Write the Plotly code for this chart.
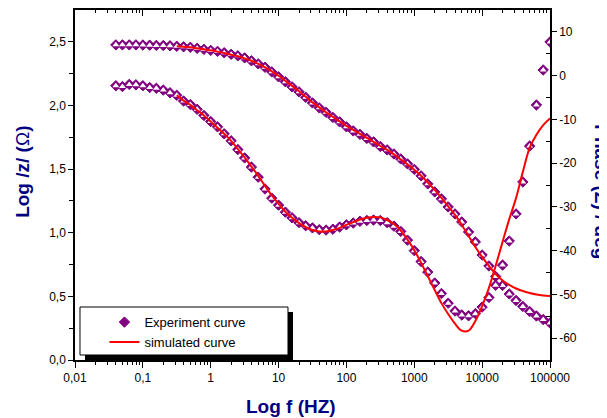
import plotly.graph_objects as go

# ---- data ----
freq = [0.04, 0.05, 0.063, 0.079, 0.1, 0.126, 0.158, 0.2, 0.251, 0.316,
        0.398, 0.501, 0.631, 0.794, 1, 1.26, 1.58, 2, 2.51, 3.16,
        3.98, 5.01, 6.31, 7.94, 10, 12.6, 15.8, 20, 25.1, 31.6,
        39.8, 50.1, 63.1, 79.4, 100, 126, 158, 200, 251, 316,
        398, 501, 631, 794, 1000, 1260, 1580, 2000, 2510, 3160,
        3980, 5010, 6310, 7940, 10000, 12600, 15800, 20000, 25100, 31600,
        39800, 50100, 63100, 79400, 100000]

logz_exp = [2.476, 2.476, 2.476, 2.476, 2.475, 2.474, 2.472, 2.471, 2.469, 2.465,
            2.461, 2.457, 2.449, 2.441, 2.433, 2.425, 2.414, 2.402, 2.390, 2.374,
            2.351, 2.327, 2.300, 2.264, 2.225, 2.186, 2.146, 2.107, 2.064, 2.020,
            1.981, 1.946, 1.906, 1.871, 1.832, 1.800, 1.773, 1.741, 1.714, 1.678,
            1.651, 1.619, 1.580, 1.541, 1.498, 1.447, 1.384, 1.321, 1.266, 1.203,
            1.148, 1.085, 1.006, 0.928, 0.825, 0.739, 0.656, 0.586, 0.519, 0.468,
            0.421, 0.381, 0.346, 0.318, 0.291]

phase_exp = [-2.3, -2.5, -2.0, -2.1, -2.3, -2.7, -2.9, -3.3, -3.9, -4.5,
             -5.8, -6.6, -7.7, -9.1, -10.5, -11.7, -13.3, -14.9, -16.9, -18.8,
             -20.9, -23.2, -25.9, -28.0, -29.6, -31.2, -32.5, -33.6, -34.3, -34.8,
             -35.2, -35.3, -35.1, -34.6, -34.1, -33.7, -33.3, -33.1, -33.0, -33.1,
             -33.6, -34.4, -35.6, -37.6, -40.0, -42.5, -44.9, -47.4, -49.8, -52.0,
             -53.8, -54.7, -54.9, -54.4, -52.9, -50.7, -47.9, -43.3, -37.8, -31.6,
             -24.3, -16.1, -6.7, 1.3, 7.7]

freq_sim = freq[9:]

logz_sim = [2.465, 2.461, 2.457, 2.449, 2.441, 2.433, 2.423, 2.412, 2.399, 2.386,
            2.370, 2.351, 2.327, 2.300, 2.268, 2.233, 2.193, 2.154, 2.111, 2.068,
            2.024, 1.985, 1.946, 1.910, 1.875, 1.840, 1.808, 1.777, 1.745, 1.714,
            1.682, 1.651, 1.616, 1.576, 1.537, 1.494, 1.447, 1.395, 1.336, 1.274,
            1.207, 1.140, 1.061, 0.975, 0.888, 0.810, 0.739, 0.676, 0.625, 0.590,
            0.562, 0.542, 0.527, 0.515, 0.507, 0.503]

phase_sim = [-4.5, -5.7, -6.7, -7.9, -9.1, -10.5, -11.9, -13.3, -14.9, -16.8,
             -18.7, -20.8, -22.9, -25.2, -27.4, -29.3, -31.1, -32.5, -33.7, -34.6,
             -35.3, -35.6, -35.6, -35.3, -34.8, -34.1, -33.5, -32.9, -32.5, -32.3,
             -32.4, -33.0, -33.9, -35.4, -37.5, -39.9, -42.8, -45.8, -49.0, -52.0,
             -54.5, -56.7, -58.3, -58.3, -56.1, -52.7, -48.5, -43.5, -38.0, -32.8,
             -28.0, -22.0, -16.5, -13.5, -11.3, -9.8]

x_tickvals = [0.01, 0.1, 1, 10, 100, 1000, 10000, 100000]
x_ticktext = ["0,01", "0,1", "1", "10", "100", "1000", "10000", "100000"]
x_minor = [m * d for d in [0.01, 0.1, 1, 10, 100, 1000, 10000] for m in range(2, 10)]
y_tickvals = [0, 0.5, 1.0, 1.5, 2.0, 2.5]
y_ticktext = ["0,0", "0,5", "1,0", "1,5", "2,0", "2,5"]
y_minor = [0.25, 0.75, 1.25, 1.75, 2.25]
y2_tickvals = [-60, -50, -40, -30, -20, -10, 0, 10]
y2_ticktext = ["-60", "-50", "-40", "-30", "-20", "-10", "0", "10"]
y2_minor = [-55, -45, -35, -25, -15, -5, 5]

PURPLE = "#800080"
RED = "#ff0000"
NAVY = "#000080"
FONT = "Arial, Liberation Sans, sans-serif"

marker_full = dict(symbol="diamond", size=8, color=PURPLE,
                   line=dict(color=PURPLE, width=1))
marker_top = dict(symbol="triangle-up", size=6, color="white", line=dict(width=0))

fig = go.Figure()
fig.add_trace(go.Scatter(x=freq, y=logz_exp, mode="markers", marker=marker_full,
                         name="Experiment curve", legendgroup="exp", showlegend=True))
fig.add_trace(go.Scatter(x=freq, y=logz_exp, mode="markers", marker=marker_top,
                         legendgroup="exp", showlegend=False, hoverinfo="skip"))
fig.add_trace(go.Scatter(x=freq, y=phase_exp, mode="markers", marker=marker_full, yaxis="y2",
                         name="Experiment curve", legendgroup="exp", showlegend=False))
fig.add_trace(go.Scatter(x=freq, y=phase_exp, mode="markers", marker=marker_top, yaxis="y2",
                         legendgroup="exp", showlegend=False, hoverinfo="skip"))
fig.add_trace(go.Scatter(x=freq_sim, y=logz_sim, mode="lines",
                         line=dict(color=RED, width=2, shape="spline", smoothing=1),
                         name="simulated curve", legendgroup="sim", showlegend=True))
fig.add_trace(go.Scatter(x=freq_sim, y=phase_sim, mode="lines", yaxis="y2",
                         line=dict(color=RED, width=2, shape="spline", smoothing=1),
                         name="simulated curve", legendgroup="sim", showlegend=False))
# empty trace to host the mirrored top axis
fig.add_trace(go.Scatter(x=[], y=[], xaxis="x2", showlegend=False, hoverinfo="skip"))

axis_common = dict(showgrid=False, zeroline=False, showline=True, linecolor="black",
                   linewidth=1.5, tickcolor="black", tickwidth=1.2,
                   tickfont=dict(family=FONT, size=12, color="black"))

# page body has an 8px margin, so the figure is sized/margined to land in place
fig.update_layout(
    width=599, height=410, autosize=False,
    margin=dict(l=67, r=57, t=2, b=58),
    paper_bgcolor="white", plot_bgcolor="white",
    font=dict(family=FONT, size=12, color="black"),
    xaxis=dict(type="log", range=[-2, 5], tickmode="array", tickvals=x_tickvals,
               ticktext=x_ticktext, ticks="outside", ticklen=6,
               minor=dict(tickmode="array", tickvals=x_minor, ticks="outside",
                          ticklen=3.5, tickcolor="black", tickwidth=1),
               **axis_common),
    xaxis2=dict(type="log", range=[-2, 5], overlaying="x", side="top", anchor="y",
                tickmode="array", tickvals=x_tickvals, showticklabels=False,
                ticks="inside", ticklen=6,
                minor=dict(tickmode="array", tickvals=x_minor, ticks="inside",
                           ticklen=3.5, tickcolor="black", tickwidth=1),
                **axis_common),
    yaxis=dict(range=[0, 2.75], tickmode="array", tickvals=y_tickvals, ticktext=y_ticktext,
               ticks="outside", ticklen=5,
               minor=dict(tickmode="array", tickvals=y_minor, ticks="outside",
                          ticklen=4, tickcolor="black", tickwidth=1),
               **axis_common),
    yaxis2=dict(range=[-65, 15], overlaying="y", side="right", anchor="x",
                tickmode="array", tickvals=y2_tickvals, ticktext=y2_ticktext,
                ticks="outside", ticklen=5,
                minor=dict(tickmode="array", tickvals=y2_minor, ticks="inside",
                           ticklen=4, tickcolor="black", tickwidth=1),
                **axis_common),
    legend=dict(x=0.062, y=0.151, xanchor="left", yanchor="top",
                bgcolor="rgba(0,0,0,0)", borderwidth=0,
                font=dict(family=FONT, size=13, color="black"),
                tracegroupgap=0, itemwidth=30),
    shapes=[
        dict(type="rect", xref="paper", yref="paper", x0=0.0211, x1=0.4589, y0=0.0, y1=0.1371,
             fillcolor="black", line=dict(width=0), layer="above"),
        dict(type="rect", xref="paper", yref="paper", x0=0.0105, x1=0.4484, y0=0.0143, y1=0.1514,
             fillcolor="white", line=dict(color="black", width=1), layer="above"),
    ],
    annotations=[
        dict(text="<b>Log f (HZ)</b>", xref="paper", yref="paper", x=0.455, y=-0.134,
             xanchor="center", yanchor="middle", showarrow=False,
             font=dict(family=FONT, size=19, color=NAVY)),
        dict(text="<b>Log /z/ (</b>Ω<b>)</b>", xref="paper", yref="paper", x=-0.112, y=0.537,
             xanchor="center", yanchor="middle", showarrow=False, textangle=-90,
             font=dict(family=FONT, size=19, color=NAVY)),
        dict(text="<b>Phase (Z) / deg</b>", xref="paper", yref="paper", x=1.109, y=0.48,
             xanchor="center", yanchor="middle", showarrow=False, textangle=90,
             font=dict(family=FONT, size=19, color=NAVY)),
    ],
)

fig.write_html("out.html")
